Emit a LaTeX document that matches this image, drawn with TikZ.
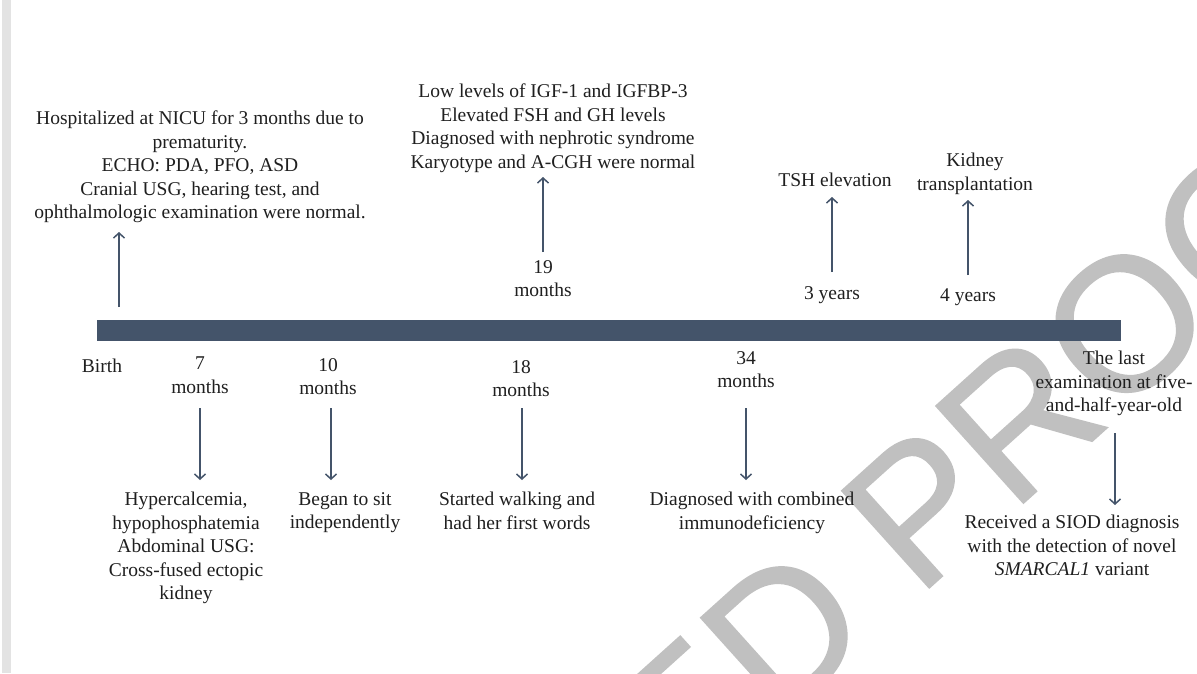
\documentclass[tikz,border=0pt]{standalone}
\usepackage{fontspec}
\setmainfont{Liberation Serif}
\newfontfamily\wmfont[FakeBold=0.8]{Liberation Sans}
\usetikzlibrary{arrows.meta}
\definecolor{barc}{HTML}{44546A}
\definecolor{wmc}{HTML}{C0C0C0}
\definecolor{stripc}{HTML}{E3E3E3}
\definecolor{txtc}{HTML}{1F1F1F}
\begin{document}
\begin{tikzpicture}[x=1pt,y=-1pt,
  lbl/.style={font=\fontsize{19.5}{23.5}\selectfont, text=txtc, align=center, inner sep=0pt, anchor=north, execute at begin node=\strut},
  evarrow/.style={draw=barc, line width=1.5pt, -{Straight Barb[length=5pt,width=11pt,line width=1.5pt]}}
]
\useasboundingbox (0,0) rectangle (1197,673);
\fill[white] (0,0) rectangle (1197,673);
\fill[stripc] (2,0) rectangle (11,673);
\begin{scope}
\clip (0,0) rectangle (1197,673);
\node[rotate=42, anchor=base east, inner sep=0pt, text=wmc, font=\wmfont\fontsize{190}{190}\selectfont] (wm) at (1420,146) {ECTED PROOF};
\end{scope}
\fill[barc] (97,320) rectangle (1121,341);
% top events
\node[lbl] (ev0) at (200,111) {Hospitalized at NICU for 3 months due to\\prematurity.\\ECHO: PDA, PFO, ASD\\Cranial USG, hearing test, and\\ophthalmologic examination were normal.};
\node[lbl] (ev19) at (553,84) {Low levels of IGF-1 and IGFBP-3\\Elevated FSH and GH levels\\Diagnosed with nephrotic syndrome\\Karyotype and A-CGH were normal};
\node[lbl] (t19) at (543,260) {19\\months};
\node[lbl] (ev3y) at (835,170) {TSH elevation};
\node[lbl] (t3y) at (832,283) {3 years};
\node[lbl] (ev4y) at (975,153) {Kidney\\transplantation};
\node[lbl] (t4y) at (968,285) {4 years};
% bottom labels
\node[lbl] (t0) at (102,356) {Birth};
\node[lbl] (t7) at (200,357) {7\\months};
\node[lbl] (t10) at (328,358) {10\\months};
\node[lbl] (t18) at (521,360) {18\\months};
\node[lbl] (t34) at (746,351) {34\\months};
\node[lbl] (tlast) at (1114,351) {The last\\examination at five-\\and-half-year-old};
\node[lbl] (ev7) at (186,492) {Hypercalcemia,\\hypophosphatemia\\Abdominal USG:\\Cross-fused ectopic\\kidney};
\node[lbl] (ev10) at (345,492) {Began to sit\\independently};
\node[lbl] (ev18) at (517,492) {Started walking and\\had her first words};
\node[lbl] (ev34) at (752,492) {Diagnosed with combined\\immunodeficiency};
\node[lbl] (evlast) at (1072,515) {Received a SIOD diagnosis\\with the detection of novel\\\textit{SMARCAL1} variant};
% arrow ends
\coordinate (a0s) at (119,307); \coordinate (a0e) at (119,232);
\coordinate (a19s) at (543,252); \coordinate (a19e) at (543,177);
\coordinate (a3s) at (832,272); \coordinate (a3e) at (832,197);
\coordinate (a4s) at (968,275); \coordinate (a4e) at (968,200);
\coordinate (a7s) at (200,408); \coordinate (a7e) at (200,480);
\coordinate (a10s) at (331,408); \coordinate (a10e) at (331,480);
\coordinate (a18s) at (522,408); \coordinate (a18e) at (522,480);
\coordinate (a34s) at (746,408); \coordinate (a34e) at (746,480);
\coordinate (als) at (1115,433); \coordinate (ale) at (1115,505);
\draw[evarrow] (a0s) -- (a0e);
\draw[evarrow] (a19s) -- (a19e);
\draw[evarrow] (a3s) -- (a3e);
\draw[evarrow] (a4s) -- (a4e);
\draw[evarrow] (a7s) -- (a7e);
\draw[evarrow] (a10s) -- (a10e);
\draw[evarrow] (a18s) -- (a18e);
\draw[evarrow] (a34s) -- (a34e);
\draw[evarrow] (als) -- (ale);
\end{tikzpicture}
\end{document}
